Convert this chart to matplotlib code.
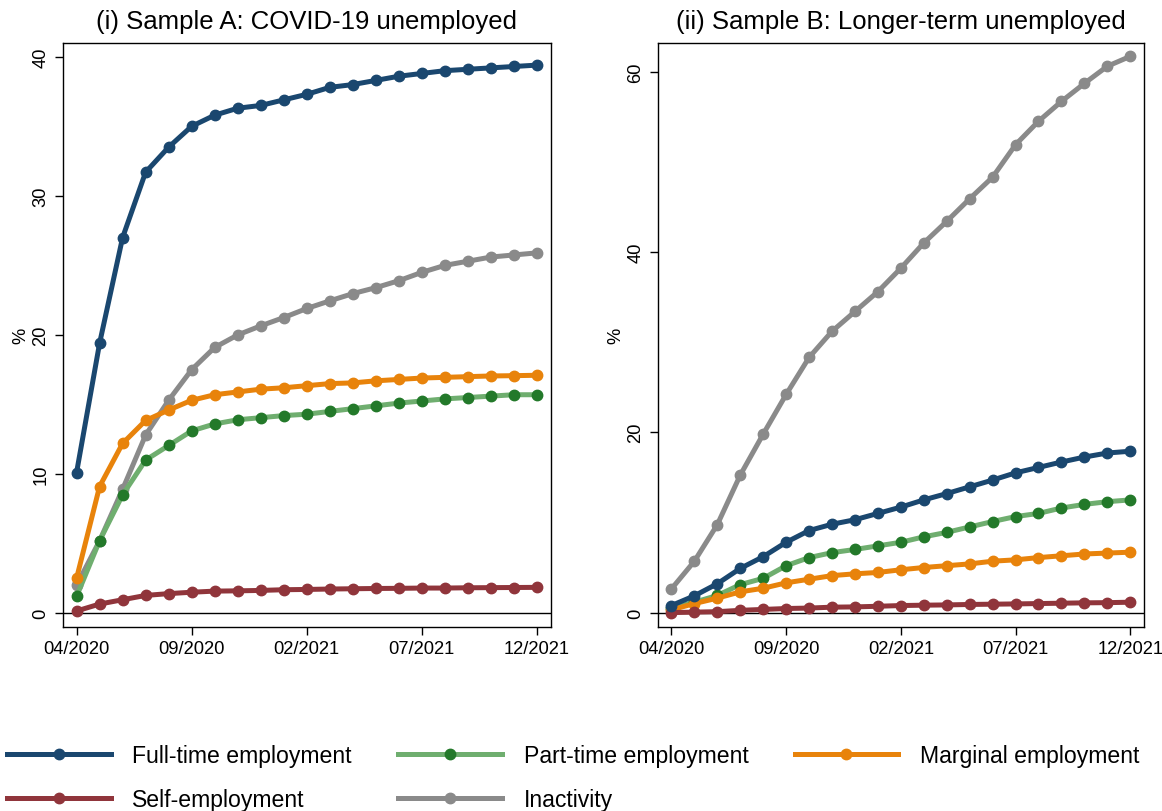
import matplotlib.pyplot as plt
import numpy as np

plt.rcParams['font.family'] = ['Liberation Sans', 'DejaVu Sans']

# months 04/2020 .. 12/2021
months = np.arange(21)
tick_pos = [0, 5, 10, 15, 20]
tick_labels = ['04/2020', '09/2020', '02/2021', '07/2021', '12/2021']

# Sample A: COVID-19 unemployed
a_full = [10.1, 19.4, 27.0, 31.7, 33.5, 35.0, 35.8, 36.3, 36.5, 36.9, 37.3,
          37.8, 38.0, 38.3, 38.6, 38.8, 39.0, 39.1, 39.2, 39.3, 39.4]
a_part = [1.2, 5.2, 8.5, 11.0, 12.05, 13.1, 13.6, 13.9, 14.05, 14.2, 14.3,
          14.5, 14.7, 14.9, 15.1, 15.25, 15.4, 15.5, 15.6, 15.7, 15.7]
a_marg = [2.5, 9.1, 12.2, 13.85, 14.6, 15.3, 15.7, 15.9, 16.1, 16.2, 16.35,
          16.5, 16.55, 16.7, 16.8, 16.9, 16.95, 17.0, 17.05, 17.07, 17.1]
a_self = [0.15, 0.65, 0.96, 1.27, 1.4, 1.5, 1.58, 1.6, 1.63, 1.68, 1.7,
          1.73, 1.75, 1.77, 1.78, 1.8, 1.8, 1.82, 1.83, 1.84, 1.85]
a_inact = [2.0, 5.2, 8.9, 12.8, 15.3, 17.5, 19.1, 20.0, 20.65, 21.25, 21.9,
           22.45, 22.97, 23.4, 23.9, 24.5, 25.0, 25.3, 25.6, 25.75, 25.9]

# Sample B: Longer-term unemployed
b_full = [0.78, 1.86, 3.2, 4.9, 6.2, 7.8, 9.1, 9.8, 10.3, 11.0, 11.7,
          12.5, 13.2, 13.95, 14.7, 15.5, 16.1, 16.7, 17.25, 17.7, 17.9]
b_part = [0.5, 1.15, 1.9, 3.1, 3.8, 5.2, 6.1, 6.65, 7.0, 7.4, 7.8,
          8.4, 8.9, 9.5, 10.1, 10.65, 11.0, 11.6, 12.0, 12.3, 12.5]
b_marg = [0.3, 1.0, 1.6, 2.3, 2.7, 3.3, 3.7, 4.1, 4.3, 4.45, 4.75,
          5.0, 5.2, 5.4, 5.7, 5.85, 6.1, 6.3, 6.5, 6.6, 6.7]
b_self = [0.0, 0.05, 0.1, 0.25, 0.35, 0.45, 0.5, 0.6, 0.63, 0.7, 0.78,
          0.82, 0.85, 0.9, 0.93, 0.96, 1.0, 1.04, 1.08, 1.1, 1.15]
b_inact = [2.63, 5.7, 9.76, 15.25, 19.8, 24.2, 28.3, 31.2, 33.4, 35.6, 38.2,
           41.0, 43.4, 45.9, 48.3, 51.9, 54.5, 56.7, 58.7, 60.6, 61.7]

labels = ['Full-time employment', 'Part-time employment', 'Marginal employment',
          'Self-employment', 'Inactivity']
line_colors = ['#1a476f', '#6fae6f', '#e8830b', '#90353b', '#8a8a8a']
mark_colors = ['#1a476f', '#23792a', '#e8830b', '#90353b', '#8a8a8a']
# drawing order (inactivity below the others)
order = [4, 1, 2, 3, 0]

fig = plt.figure(figsize=(11.62, 8.12), dpi=100)
ax1 = fig.add_axes([0.054, 0.2266, 0.420, 0.7194])
ax2 = fig.add_axes([0.566, 0.2266, 0.4185, 0.7194])

panels = [
    (ax1, [a_full, a_part, a_marg, a_self, a_inact], '(i) Sample A: COVID-19 unemployed',
     [0, 10, 20, 30, 40], (-1.0, 41.0)),
    (ax2, [b_full, b_part, b_marg, b_self, b_inact], '(ii) Sample B: Longer-term unemployed',
     [0, 20, 40, 60], (-1.6, 63.2)),
]

handles = {}
for ax, series, title, yt, ylim in panels:
    ax.axhline(0, color='black', lw=1, zorder=1)
    for i in order:
        h, = ax.plot(months, series[i], color=line_colors[i], lw=3.6,
                     marker='o', ms=7.5, mfc=mark_colors[i], mec=mark_colors[i],
                     label=labels[i], zorder=3)
        handles[i] = h
    ax.set_title(title, fontsize=18.5, pad=11)
    ax.set_xlim(-0.6, 20.6)
    ax.set_ylim(*ylim)
    ax.set_xticks(tick_pos)
    ax.set_xticklabels(tick_labels, fontsize=13.2)
    ax.set_yticks(yt)
    ax.set_yticklabels([str(v) for v in yt], fontsize=13.2, rotation=90, va='center')
    ax.set_ylabel('%', fontsize=13.2)
    ax.yaxis.set_label_coords(-0.068, 0.5)
    ax.tick_params(direction='out', length=6, width=1)
    for sp in ax.spines.values():
        sp.set_linewidth(1)

leg_order = [0, 3, 1, 4, 2]
fig.legend([handles[i] for i in leg_order], [labels[i] for i in leg_order],
           loc='lower left', bbox_to_anchor=(-0.012, -0.026), ncol=3, frameon=False,
           fontsize=16.6, handlelength=4.5, handletextpad=0.95, columnspacing=2.0,
           labelspacing=0.92)

fig.savefig('out.png', dpi=100)
